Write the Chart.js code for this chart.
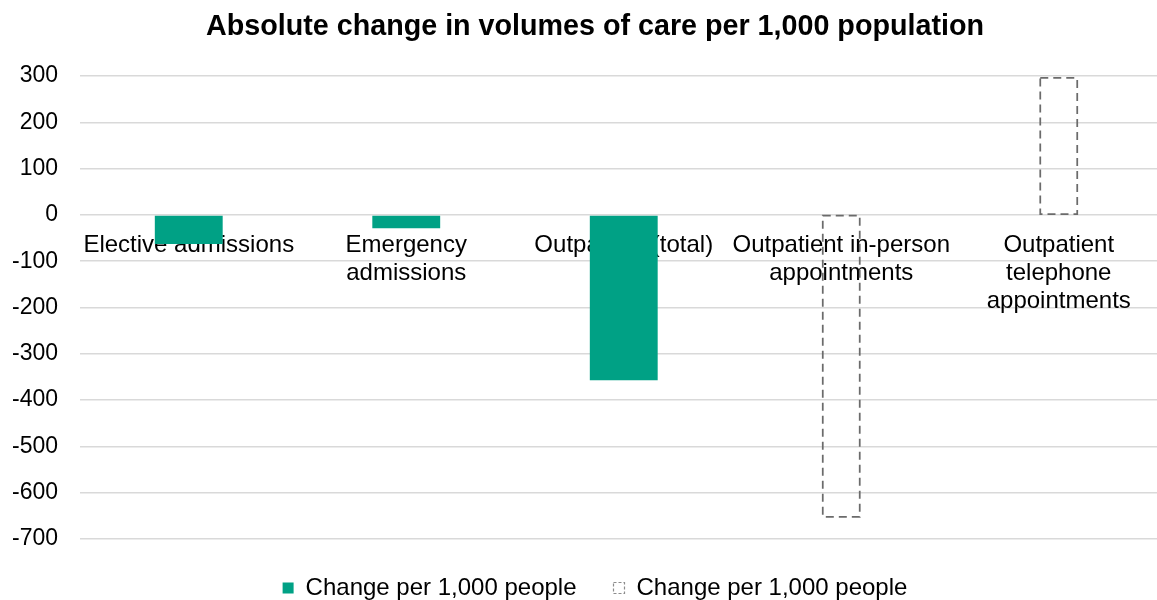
<!DOCTYPE html>
<html lang="en">
<head>
    <meta charset="UTF-8">
    <title>Absolute change in volumes of care per 1,000 population</title>
    <script src="https://cdn.jsdelivr.net/npm/chart.js"></script>
    <style>
        html, body { margin: 0; padding: 0; background: #fff; overflow: hidden; }
        .wrap { width: 1157px; height: 600px; overflow: hidden; }
        canvas { display: block; }
    </style>
</head>
<body>
<div class="wrap">
    <canvas id="careChart" width="1190" height="600"></canvas>
</div>
<script>
    // categories (multi-line labels as shown under the zero line)
    const categories = [
        'Elective admissions',
        ['Emergency', 'admissions'],
        'Outpatient (total)',
        ['Outpatient in-person', 'appointments'],
        ['Outpatient', 'telephone', 'appointments']
    ];
    // solid series
    const solidValues = [-63, -29, -357, null, null];
    // dashed-outline series
    const dashedValues = [null, null, null, -652, 296];
    const seriesName = 'Change per 1,000 people';
    const yTicks = { min: -700, max: 300, step: 100 };

    const green = '#00a185';
    const dashGrey = '#6b6b6b';
    const font = 'Liberation Sans, Arial, sans-serif';

    // Chart.js bars can't dash their border, so stroke the outline ourselves
    const dashedOutline = {
        id: 'dashedOutline',
        afterDatasetsDraw(chart) {
            const meta = chart.getDatasetMeta(1);
            const ctx = chart.ctx;
            ctx.save();
            ctx.strokeStyle = dashGrey;
            ctx.lineWidth = 1.75;
            ctx.setLineDash([8, 5]);
            meta.data.forEach((bar, i) => {
                if (dashedValues[i] === null) return;
                const p = bar.getProps(['x', 'y', 'base', 'width'], true);
                const top = Math.min(p.y, p.base);
                const h = Math.abs(p.base - p.y);
                ctx.strokeRect(p.x - p.width / 2, top, p.width, h);
            });
            ctx.restore();
        }
    };

    // let the y labels run into the left padding instead of being clipped
    const widenYLabels = {
        id: 'widenYLabels',
        afterLayout(chart) {
            chart.scales.y.left = 0;
        }
    };

    const ctx = document.getElementById('careChart').getContext('2d');
    new Chart(ctx, {
        type: 'bar',
        data: {
            labels: categories,
            datasets: [{
                label: seriesName,
                data: solidValues,
                backgroundColor: green,
                borderWidth: 0,
                categoryPercentage: 1,
                barPercentage: 0.312
            }, {
                label: seriesName,
                data: dashedValues,
                backgroundColor: 'rgba(0,0,0,0)',
                borderWidth: 0,
                categoryPercentage: 1,
                barPercentage: 0.17
            }]
        },
        options: {
            responsive: false,
            animation: false,
            layout: { padding: { left: 22.5, right: 22.5, top: 0, bottom: -10 } },
            plugins: {
                title: {
                    display: true,
                    text: 'Absolute change in volumes of care per 1,000 population',
                    color: '#000',
                    font: { family: font, size: 28.7, weight: 'bold', lineHeight: 1.2 },
                    padding: { top: 9.8, bottom: 31.8 }
                },
                legend: {
                    position: 'bottom',
                    labels: {
                        color: '#000',
                        font: { family: font, size: 24 },
                        boxWidth: 11,
                        boxHeight: 11,
                        padding: 37,
                        generateLabels(chart) {
                            return [{
                                text: seriesName,
                                fillStyle: green,
                                strokeStyle: green,
                                lineWidth: 0,
                                datasetIndex: 0
                            }, {
                                text: seriesName,
                                fillStyle: 'rgba(0,0,0,0)',
                                strokeStyle: '#8c8c8c',
                                lineWidth: 1.2,
                                lineDash: [3, 2],
                                datasetIndex: 1
                            }];
                        }
                    }
                },
                tooltip: { enabled: false }
            },
            scales: {
                x: {
                    stacked: true,
                    position: { y: 0 },
                    z: 1,
                    grid: { display: false, drawTicks: false },
                    border: { display: false },
                    ticks: {
                        color: '#000',
                        font: { family: font, size: 24, lineHeight: 1.1667 },
                        padding: 16,
                        maxRotation: 0,
                        autoSkip: false
                    }
                },
                y: {
                    stacked: true,
                    min: yTicks.min,
                    max: yTicks.max,
                    grid: { color: '#d9d9d9', lineWidth: 1.5, drawTicks: false },
                    border: { display: false },
                    afterFit(scale) { scale.width = 57.5; },
                    ticks: {
                        stepSize: yTicks.step,
                        color: '#000',
                        font: { family: font, size: 23 },
                        padding: 22
                    }
                }
            }
        },
        plugins: [dashedOutline, widenYLabels]
    });
</script>
</body>
</html>
